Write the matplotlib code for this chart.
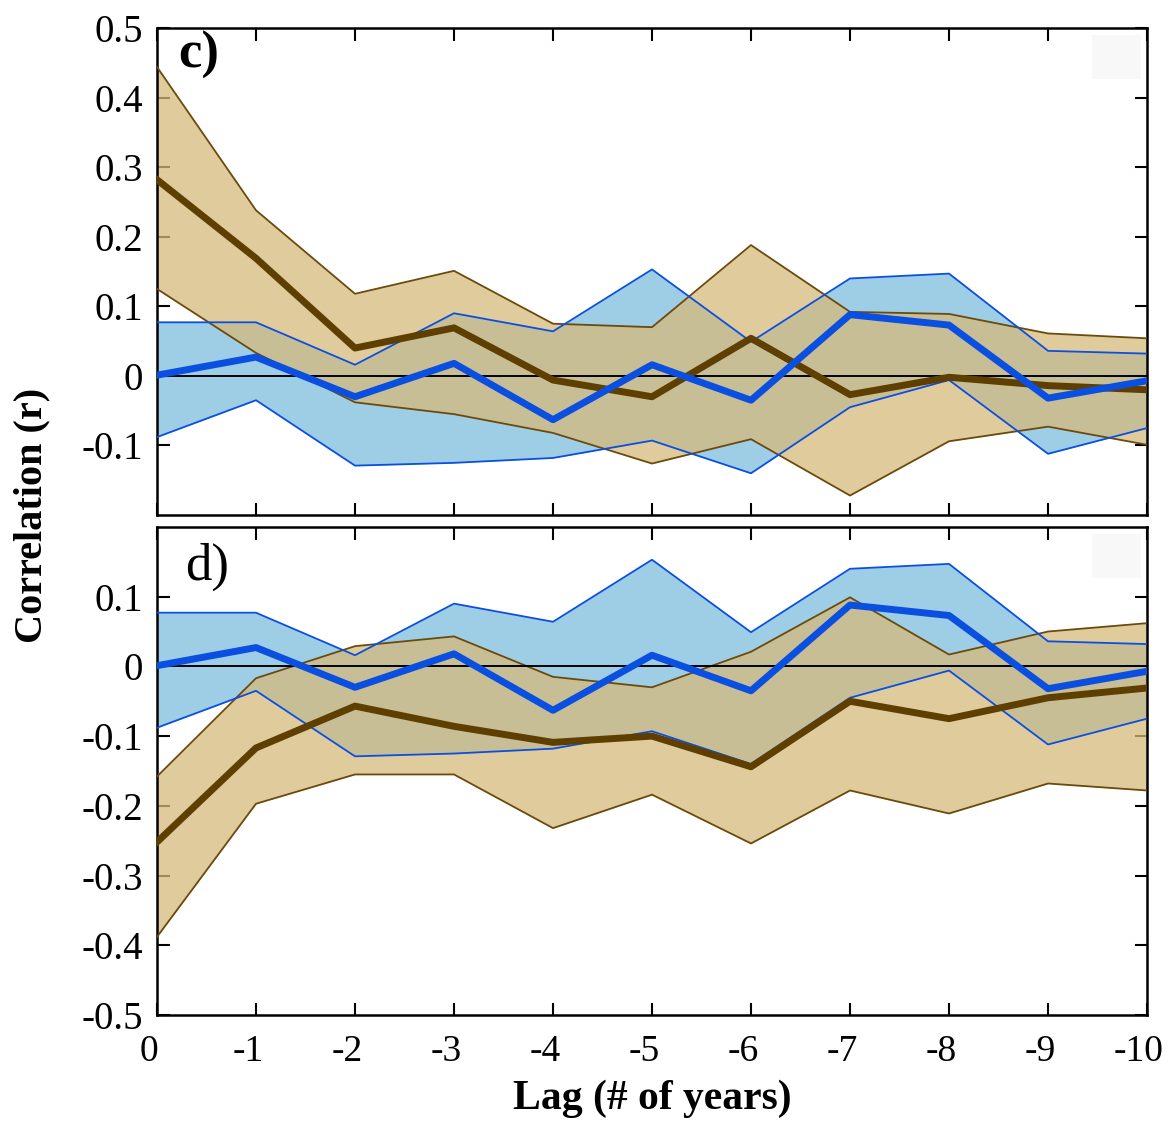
import matplotlib
matplotlib.use("Agg")
import matplotlib.pyplot as plt
from matplotlib.patches import Rectangle
from matplotlib.transforms import ScaledTranslation

plt.rcParams["font.family"] = ["Liberation Serif", "DejaVu Serif"]

lags = [0, -1, -2, -3, -4, -5, -6, -7, -8, -9, -10]

# blue series (same in both panels)
blue_mean = [0.001, 0.027, -0.030, 0.018, -0.063, 0.016, -0.035, 0.088, 0.073, -0.032, -0.007]
blue_upper = [0.077, 0.077, 0.016, 0.090, 0.064, 0.153, 0.049, 0.140, 0.147, 0.036, 0.032]
blue_lower = [-0.088, -0.035, -0.129, -0.125, -0.118, -0.093, -0.140, -0.045, -0.006, -0.112, -0.075]

# brown series, panel c
c_mean = [0.282, 0.169, 0.040, 0.069, -0.006, -0.030, 0.054, -0.027, -0.002, -0.014, -0.020]
c_upper = [0.444, 0.238, 0.118, 0.151, 0.075, 0.070, 0.188, 0.092, 0.089, 0.061, 0.054]
c_lower = [0.125, 0.033, -0.038, -0.055, -0.082, -0.126, -0.091, -0.172, -0.094, -0.073, -0.099]

# brown series, panel d
d_mean = [-0.252, -0.117, -0.057, -0.086, -0.109, -0.100, -0.144, -0.050, -0.075, -0.045, -0.031]
d_upper = [-0.158, -0.017, 0.029, 0.043, -0.015, -0.030, 0.021, 0.099, 0.017, 0.050, 0.062]
d_lower = [-0.388, -0.197, -0.155, -0.155, -0.232, -0.184, -0.254, -0.178, -0.211, -0.168, -0.178]

blue_fill = "#9ecde6"
blue_line = "#0b4fe0"
brown_fill = (214 / 255, 186 / 255, 123 / 255)
brown_line = "#6b4a0b"
brown_mean = "#5e3f00"


def panel(ax, mean, upper, lower, label, weight, lpos, ylim, yticks):
    ax.fill_between(lags, blue_lower, blue_upper, color=blue_fill, lw=0, zorder=1)
    ax.fill_between(lags, lower, upper, color=brown_fill, alpha=0.75, lw=0, zorder=2)
    ax.plot(lags, upper, color=brown_line, lw=1.3, zorder=3)
    ax.plot(lags, lower, color=brown_line, lw=1.3, zorder=3)
    ax.plot(lags, blue_upper, color=blue_line, lw=1.3, zorder=3)
    ax.plot(lags, blue_lower, color=blue_line, lw=1.3, zorder=3)
    ax.axhline(0, color="black", lw=1.4, zorder=4)
    ax.plot(lags, mean, color=brown_mean, lw=5, zorder=5)
    ax.plot(lags, blue_mean, color=blue_line, lw=5, zorder=6)

    ax.set_xlim(0, -10)
    ax.set_ylim(*ylim)
    ax.set_xticks(lags)
    ax.set_yticks(yticks)
    ax.set_yticklabels(["0" if abs(t) < 1e-9 else ("%.1f" % t) for t in yticks])
    ax.tick_params(direction="in", top=True, right=True, length=9, width=1.5,
                   labelsize=28)
    ax.tick_params(axis="y", pad=10)
    ax.tick_params(axis="x", pad=14, labelsize=27)
    for s in ax.spines.values():
        s.set_linewidth(1.8)

    ax.text(lpos[0], lpos[1], label, transform=ax.transAxes, fontsize=38,
            fontweight=weight, va="center", ha="left", zorder=7)
    ax.add_patch(Rectangle((0.944, 0.895), 0.05, 0.09, transform=ax.transAxes,
                           color="#f8f8f8", lw=0, zorder=0))


fig = plt.figure(figsize=(11.69, 11.25), dpi=100)
ax1 = fig.add_axes([0.1343, 0.5422, 0.8469, 0.4329])
ax2 = fig.add_axes([0.1343, 0.0978, 0.8469, 0.4338])

panel(ax1, c_mean, c_upper, c_lower, "c)", "bold", (0.021, 0.945), (-0.2, 0.5),
      [-0.1, 0, 0.1, 0.2, 0.3, 0.4, 0.5])
ax1.set_xticklabels([])

panel(ax2, d_mean, d_upper, d_lower, "d)", "normal", (0.028, 0.918), (-0.5, 0.2),
      [-0.5, -0.4, -0.3, -0.2, -0.1, 0, 0.1])
ax2.set_xticklabels([str(l) for l in lags])
# labels sit a little left of their ticks in the original
shift = ScaledTranslation(-0.08, 0, fig.dpi_scale_trans)
for lab in ax2.get_xticklabels():
    lab.set_transform(lab.get_transform() + shift)
ax2.set_xlabel("Lag (# of years)", fontsize=30, fontweight="bold", labelpad=8)

fig.text(0.027, 0.5422, "Correlation (r)", rotation=90, fontsize=29,
         fontweight="bold", va="center", ha="center")

fig.savefig("out.png", dpi=100)
